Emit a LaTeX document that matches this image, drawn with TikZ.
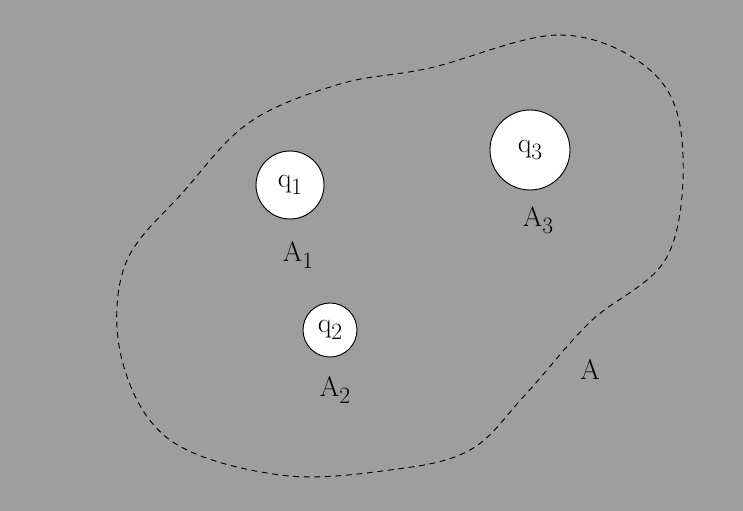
\documentclass[tikz,border=0pt]{standalone}
\tikzset{>=latex}
\newcommand{\sub}[1]{\raisebox{-0.55ex}{\fontsize{20}{24}\selectfont #1}}

\begin{document}
\begin{tikzpicture}[x=0.03cm,y=-0.03cm,
    charge/.style={draw,thick,fill=white,circle,inner sep=0pt},
    lbl/.style={font=\fontsize{24}{28}\selectfont}]
  \fill[black!38] (0,0) rectangle (743,511);
  \useasboundingbox (0,0) rectangle (743,511);
  % region A
  \draw[thick,dash pattern=on 5pt off 4pt] plot[smooth cycle,tension=0.6] coordinates {
    (430,68) (560,35) (650,70) (682,140) (668,255) (590,322)
    (525,395) (470,450) (390,470) (280,475) (170,440)
    (122,360) (125,265) (185,190) (250,122) (340,84)};
  % charges
  \node[charge,minimum size=2.04cm,lbl] (q1) at (290,185) {q\sub{1}};
  \node[charge,minimum size=1.62cm,lbl] (q2) at (330,330) {q\sub{2}};
  \node[charge,minimum size=2.4cm,lbl] (q3) at (530,150) {q\sub{3}};
  \node[lbl] (A1) at (298,255) {A\sub{1}};
  \node[lbl] (A2) at (335,390) {A\sub{2}};
  \node[lbl] (A3) at (538,220) {A\sub{3}};
  \node[lbl] (A) at (590,370) {A};
\end{tikzpicture}
\end{document}
